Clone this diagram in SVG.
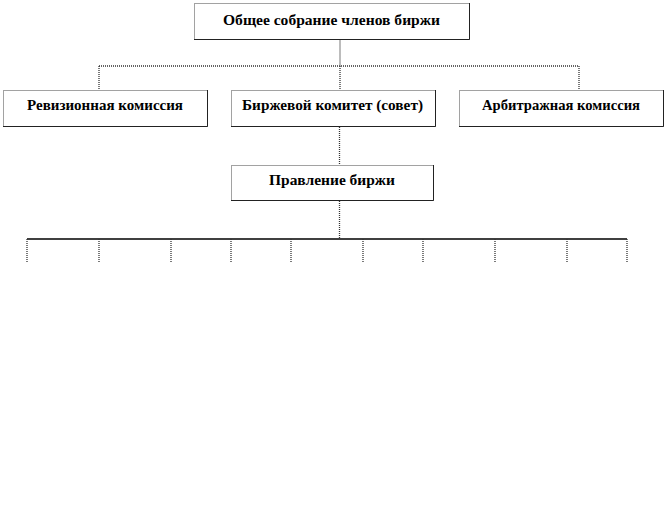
<svg xmlns="http://www.w3.org/2000/svg" width="666" height="519" viewBox="0 0 666 519">
<style>
.box{fill:#fff;stroke:#444;stroke-width:1;stroke-dasharray:1 1}
.shadow{fill:none;stroke:#222;stroke-width:1}
.conn{fill:none;stroke:#333;stroke-width:1.3;stroke-dasharray:1 1}
.bus{fill:none;stroke:#000;stroke-width:1.3}
text{font-family:"Liberation Serif","Times New Roman",serif;font-weight:bold;font-size:15px;fill:#000;text-anchor:middle}
</style>
<rect width="666" height="519" fill="#fff"/>
<g id="connectors">
<path class="conn" d="M340 39.5V66M99 66H579M99 66V90M579 66V90M340 66V90"/>
<path class="conn" d="M339.5 127V165M339.5 201V238"/>
<path class="bus" d="M27 239H627"/>
<path class="conn" d="M27 239V263M99 239V263M171 239V263M231 239V263M291 239V263M363 239V263M423 239V263M495 239V263M567 239V263M627 239V263"/>
</g>
<g id="n-general">
<rect class="box" x="194.5" y="3.5" width="275" height="36"/>
<path class="shadow" d="M194 39.5H469.5V3"/>
<text x="331.5" y="25" textLength="217" lengthAdjust="spacingAndGlyphs">Общее собрание членов биржи</text>
</g>
<g id="n-audit">
<rect class="box" x="3.5" y="90.5" width="204" height="36"/>
<path class="shadow" d="M3 126.5H207.5V90"/>
<text x="105" y="110" textLength="156" lengthAdjust="spacingAndGlyphs">Ревизионная комиссия</text>
</g>
<g id="n-committee">
<rect class="box" x="231.5" y="90.5" width="204" height="36"/>
<path class="shadow" d="M231 126.5H435.5V90"/>
<text x="332.5" y="110" textLength="181" lengthAdjust="spacingAndGlyphs">Биржевой комитет (совет)</text>
</g>
<g id="n-arbitration">
<rect class="box" x="459.5" y="90.5" width="204" height="36"/>
<path class="shadow" d="M459 126.5H663.5V90"/>
<text x="561" y="110" textLength="158" lengthAdjust="spacingAndGlyphs">Арбитражная комиссия</text>
</g>
<g id="n-board">
<rect class="box" x="231.5" y="165.5" width="202" height="35"/>
<path class="shadow" d="M231 200.5H433.5V165"/>
<text x="332" y="185" textLength="126" lengthAdjust="spacingAndGlyphs">Правление биржи</text>
</g>
</svg>
